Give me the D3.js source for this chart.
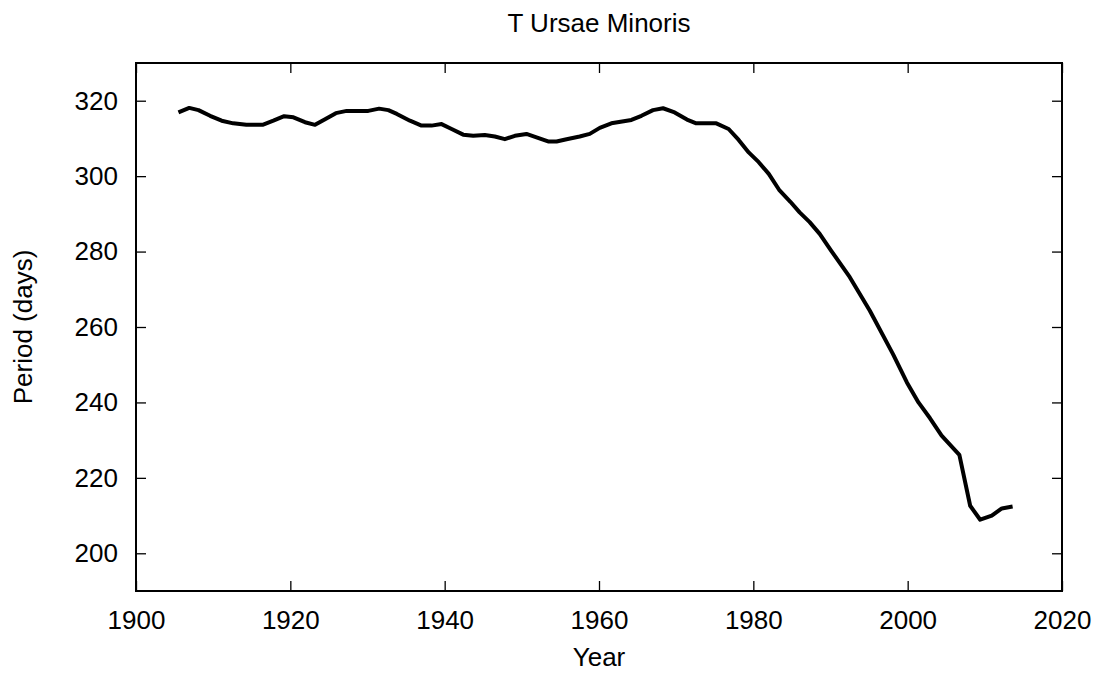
<!DOCTYPE html>
<html lang="en">
<head>
<meta charset="utf-8">
<script src="https://d3js.org/d3.v7.min.js"></script>
<style>
  body { margin: 0; background: #fff; }
  text { font-family: "Liberation Sans", Arial, sans-serif; fill: #000; }
</style>
</head>
<body>
<script>
var years = [1905.5, 1906.9, 1908.1, 1909.6, 1911.1, 1912.6, 1914.3, 1916.4, 1917.8, 1919.2,
             1920.4, 1921.9, 1923.2, 1924.5, 1925.9, 1927.3, 1930.1, 1931.5, 1932.7, 1933.8,
             1935.5, 1937.0, 1938.3, 1939.6, 1940.9, 1942.4, 1943.7, 1945.2, 1946.5, 1947.8,
             1949.1, 1950.6, 1951.9, 1953.4, 1954.5, 1955.8, 1957.5, 1958.8, 1960.1, 1961.6,
             1964.2, 1965.5, 1967.0, 1968.3, 1969.8, 1971.4, 1972.6, 1975.2, 1976.8, 1978.1,
             1979.4, 1980.7, 1982.0, 1983.4, 1984.8, 1986.0, 1987.3, 1988.6, 1990.1, 1992.5,
             1995.1, 1998.1, 1999.9, 2001.4, 2002.9, 2004.4, 2006.7, 2008.1, 2009.4, 2010.9,
             2012.2, 2013.6];
var periods = [316.9, 318.1, 317.5, 316.0, 314.7, 314.0, 313.6, 313.6, 314.7, 315.9,
               315.6, 314.3, 313.6, 315.1, 316.7, 317.3, 317.3, 317.9, 317.5, 316.5,
               314.7, 313.4, 313.4, 313.8, 312.5, 311.0, 310.7, 310.9, 310.5, 309.8,
               310.7, 311.2, 310.3, 309.2, 309.2, 309.8, 310.5, 311.2, 312.8, 314.0,
               314.9, 316.0, 317.5, 318.0, 316.9, 315.0, 314.0, 314.0, 312.5, 309.6,
               306.3, 303.7, 300.6, 296.2, 293.2, 290.4, 287.8, 284.7, 280.2, 273.2,
               264.3, 252.8, 245.3, 240.0, 235.8, 231.2, 226.1, 212.6, 208.9, 210.0,
               211.9, 212.4];
var xTicks = [1900, 1920, 1940, 1960, 1980, 2000, 2020];
var yTicks = [200, 220, 240, 260, 280, 300, 320];

var width = 1098, height = 673;
var margin = {left: 136, right: 36, top: 63, bottom: 82};
var w = width - margin.left - margin.right,
    h = height - margin.top - margin.bottom;

var svg = d3.select("body").append("svg")
    .attr("width", width)
    .attr("height", height);

var x = d3.scaleLinear().domain([1900, 2020]).range([0, w]);
var y = d3.scaleLinear().domain([190, 330]).range([h, 0]);

var g = svg.append("g")
    .attr("transform", "translate(" + margin.left + "," + margin.top + ")");

function styleAxis(sel) {
    sel.select(".domain").remove();
    sel.selectAll("line").attr("stroke", "#000").attr("stroke-width", 1.3);
    sel.selectAll("text").style("font-size", "26px")
        .style("font-family", "'Liberation Sans', Arial, sans-serif");
}

g.append("g")
    .attr("transform", "translate(0," + h + ")")
    .call(d3.axisBottom(x).tickValues(xTicks).tickFormat(d3.format("d"))
        .tickSize(-10).tickPadding(20))
    .call(styleAxis);

g.append("g")
    .call(d3.axisTop(x).tickValues(xTicks).tickFormat("").tickSize(-10))
    .call(styleAxis);

g.append("g")
    .call(d3.axisLeft(y).tickValues(yTicks).tickSize(-10).tickPadding(18))
    .call(styleAxis);

g.append("g")
    .attr("transform", "translate(" + w + ",0)")
    .call(d3.axisRight(y).tickValues(yTicks).tickFormat("").tickSize(-10))
    .call(styleAxis);

// frame
g.append("rect")
    .attr("width", w).attr("height", h)
    .attr("fill", "none").attr("stroke", "#000").attr("stroke-width", 2);

var line = d3.line()
    .x(function (d, i) { return x(years[i]); })
    .y(function (d) { return y(d); });

g.append("path")
    .datum(periods)
    .attr("d", line)
    .attr("fill", "none")
    .attr("stroke", "#000")
    .attr("stroke-width", 4)
    .attr("stroke-linejoin", "round");

svg.append("text")
    .attr("x", margin.left + w / 2).attr("y", 32)
    .attr("text-anchor", "middle").style("font-size", "26px")
    .text("T Ursae Minoris");

svg.append("text")
    .attr("x", margin.left + w / 2).attr("y", 666)
    .attr("text-anchor", "middle").style("font-size", "26px")
    .text("Year");

svg.append("text")
    .attr("transform", "translate(32," + (margin.top + h / 2) + ") rotate(-90)")
    .attr("text-anchor", "middle").style("font-size", "26px")
    .text("Period (days)");
</script>
</body>
</html>
